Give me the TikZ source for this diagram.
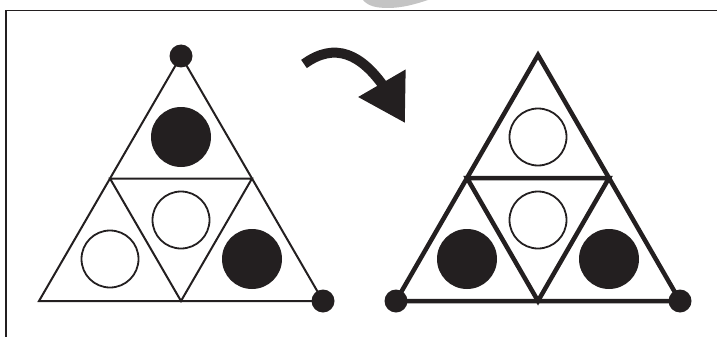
\documentclass[tikz,border=0pt]{standalone}
\usepackage{xcolor}
\usepackage{tikz}
\usetikzlibrary{arrows.meta,calc,bending}
\definecolor{ink}{HTML}{231F20}
\definecolor{smudge}{HTML}{C4C4C4}

\begin{document}
\begin{tikzpicture}[
  x=1pt,y=-1pt,
  frame/.style={draw=ink,line width=1.3pt},
  ltri/.style={draw=ink,line width=2pt,line join=miter},
  rtri/.style={draw=ink,line width=4.5pt,line join=miter},
  vdot/.style={circle,fill=ink,inner sep=0pt,minimum size=23pt},
  fillball/.style={circle,fill=ink,inner sep=0pt,minimum size=60pt},
  openball/.style={circle,draw=ink,fill=white,line width=1.8pt,inner sep=0pt,minimum size=57pt},
  turn/.style={draw=ink,line width=10pt,-{Triangle[length=46pt,width=52pt]}}
]
\useasboundingbox (0,0) rectangle (717,337);

% frame
\coordinate (fTL) at (6,10.5);
\coordinate (fTR) at (717,10.5);
\coordinate (fBL) at (6,337);
\draw[frame] (fTR) -- (fTL) -- (fBL);
\fill[smudge] (363,0) .. controls (368,6) and (376,8) .. (388,8)
  .. controls (402,8) and (416,4) .. (428,0) -- cycle;

% left triangle
\coordinate (lA) at (181,56);
\coordinate (lB) at (39,301);
\coordinate (lC) at (323,301);
\coordinate (lAB) at ($(lA)!.5!(lB)$);
\coordinate (lAC) at ($(lA)!.5!(lC)$);
\coordinate (lBC) at ($(lB)!.5!(lC)$);
\draw[ltri] (lA) -- (lB) -- (lC) -- cycle;
\draw[ltri] (lAB) -- (lAC) -- (lBC) -- cycle;
\node[fillball] (lTop) at (181,137) {};
\node[openball] (lMid) at (181,220) {};
\node[openball] (lLeft) at (110,259) {};
\node[fillball] (lRight) at (252,259) {};
\node[vdot] (lDotA) at (lA) {};
\node[vdot] (lDotC) at (lC) {};

% turn arrow
\coordinate (aS) at (304,64);
\coordinate (aE) at (405,123);
\draw[turn] (aS) .. controls (344,35) and (376,64) .. (aE);

% right triangle
\coordinate (rA) at (538,55);
\coordinate (rB) at (396,301);
\coordinate (rC) at (680,301);
\coordinate (rAB) at ($(rA)!.5!(rB)$);
\coordinate (rAC) at ($(rA)!.5!(rC)$);
\coordinate (rBC) at ($(rB)!.5!(rC)$);
\draw[rtri] (rA) -- (rB) -- (rC) -- cycle;
\draw[rtri] (rAB) -- (rAC) -- (rBC) -- cycle;
\node[openball] (rTop) at (538,137) {};
\node[openball] (rMid) at (538,220) {};
\node[fillball] (rLeft) at (467,259) {};
\node[fillball] (rRight) at (609,259) {};
\node[vdot] (rDotB) at (rB) {};
\node[vdot] (rDotC) at (rC) {};
\end{tikzpicture}
\end{document}
